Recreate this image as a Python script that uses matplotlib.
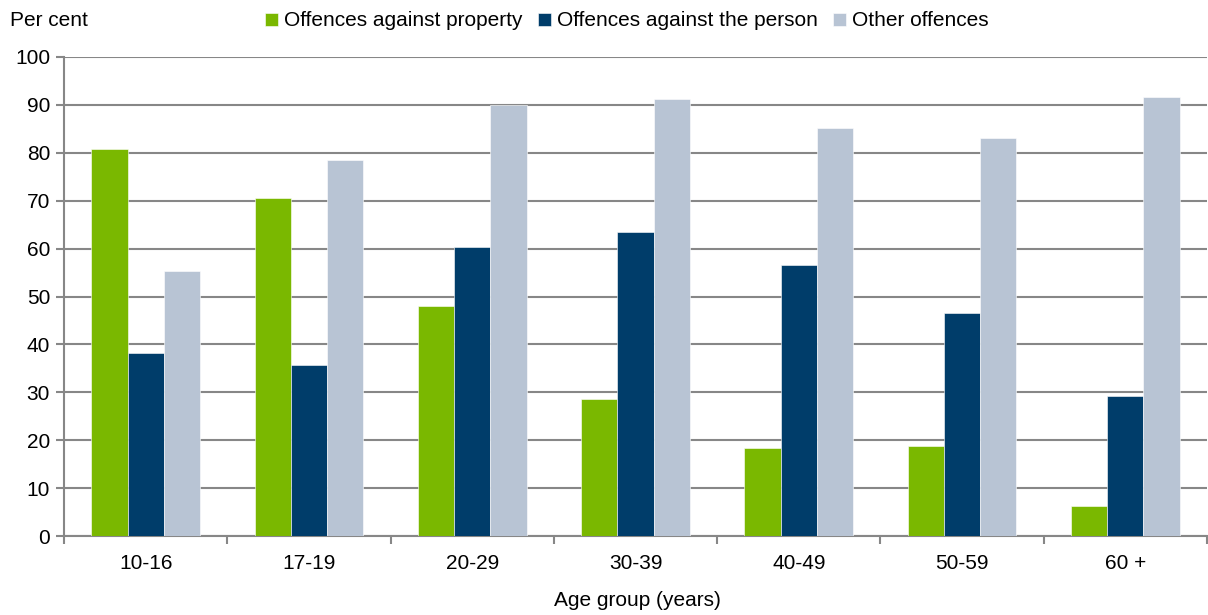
import numpy as np
import matplotlib
matplotlib.use('Agg')
import matplotlib.pyplot as plt

plt.rcParams['font.family'] = ['Liberation Sans', 'DejaVu Sans']

# Share of offenders by principal offence type, per age group
age_groups = ['10-16', '17-19', '20-29', '30-39', '40-49', '50-59', '60 +']
property_pct = [80.8, 70.6, 48.0, 28.6, 18.4, 18.8, 6.3]
person_pct = [38.2, 35.7, 60.3, 63.5, 56.6, 46.6, 29.2]
other_pct = [55.3, 78.5, 90.0, 91.2, 85.2, 83.1, 91.6]

series = [
    ('Offences against property', property_pct, '#7AB800'),
    ('Offences against the person', person_pct, '#003D6A'),
    ('Other offences', other_pct, '#B8C4D4'),
]

fig = plt.figure(figsize=(12.08, 6.15), dpi=100)
ax = fig.add_axes([64 / 1208, 79 / 615, 1143 / 1208, 479 / 615])

x = np.arange(len(age_groups))
w = 0.222
for i, (name, vals, col) in enumerate(series):
    ax.bar(x + (i - 1) * w, vals, width=w, color=col, label=name,
           edgecolor='white', linewidth=0.4, zorder=3)

grid_col = '#878787'
ax.set_ylim(0, 100)
ax.set_yticks(range(0, 101, 10))
ax.set_xlim(-0.5, len(age_groups) - 0.5)
ax.yaxis.grid(True, color=grid_col, linewidth=1.5, zorder=0)
ax.set_axisbelow(True)

# category labels in the middle, ticks on the group boundaries
ax.set_xticks(x)
ax.set_xticklabels(age_groups)
ax.tick_params(axis='x', length=0, pad=13, labelsize=15)
ax.set_xticks(np.arange(-0.5, len(age_groups)), minor=True)
ax.tick_params(axis='x', which='minor', length=6, width=1.5, color=grid_col)
ax.tick_params(axis='y', length=6, width=1.5, color=grid_col, labelsize=15, pad=4)

for side in ['top', 'right']:
    ax.spines[side].set_visible(False)
for side in ['left', 'bottom']:
    ax.spines[side].set_color(grid_col)
    ax.spines[side].set_linewidth(1.5)

fig.text(10 / 1208, 1 - 21 / 615, 'Per cent', fontsize=15, va='center', ha='left')
fig.text(637 / 1208, 1 - 600 / 615, 'Age group (years)', fontsize=15,
         va='center', ha='center')

fig.legend(loc='center', bbox_to_anchor=(627 / 1208, 1 - 21 / 615), ncol=3,
           frameon=False, fontsize=15, handlelength=0.6, handleheight=0.6,
           handletextpad=0.3, columnspacing=0.75, borderpad=0)

fig.savefig('out.png', dpi=100)
